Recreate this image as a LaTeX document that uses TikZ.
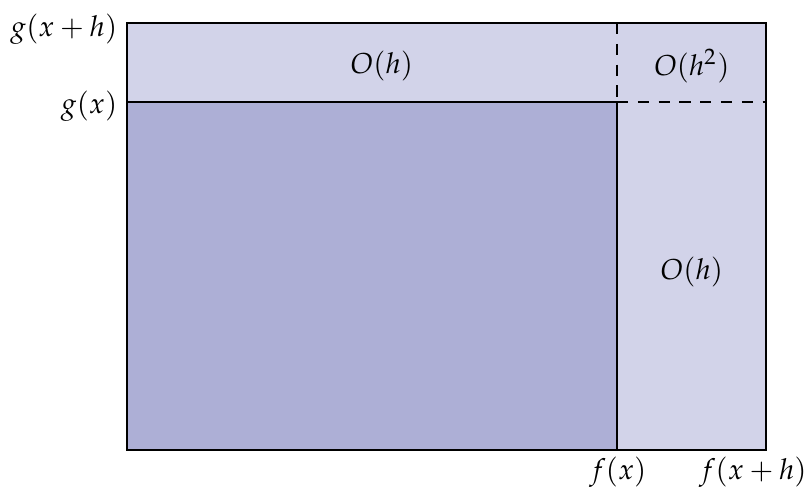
\documentclass[tikz,border=0pt]{standalone}
\usepackage{mathpazo}
\definecolor{lightfill}{RGB}{210,211,233}
\definecolor{darkfill}{RGB}{173,175,214}
\tikzset{
  lbl/.style={inner sep=0pt, font=\fontsize{9}{11}\selectfont},
  thinline/.style={line width=0.35pt, black},
  dashline/.style={line width=0.35pt, black, dash pattern=on 3.5pt off 3pt}
}
\begin{document}
\begin{tikzpicture}[x=0.3125pt,y=-0.3125pt]
\useasboundingbox (0,0) rectangle (807,493);
% regions
\fill[lightfill] (127,23) rectangle (766,450);
\fill[darkfill] (127,102) rectangle (617,450);
% inner lines
\coordinate (gl) at (127,102);
\coordinate (gm) at (617,102);
\coordinate (gr) at (766,102);
\coordinate (ft) at (617,23);
\coordinate (fb) at (617,450);
\draw[thinline] (gl) -- (gm) -- (fb);
\draw[dashline] (gm) -- (gr);
\draw[dashline] (ft) -- (gm);
% outer frame
\draw[line width=0.65pt] (127,23) rectangle (766,450);
% labels
\node[lbl, anchor=east] (gxh) at (118,29) {$g(x+h)$};
\node[lbl, anchor=east] (gx) at (118,106) {$g(x)$};
\node[lbl] (fx) at (618,472) {$f(x)$};
\node[lbl] (fxh) at (753,472) {$f(x+h)$};
\node[lbl] (o1) at (382,66) {$O(h)$};
\node[lbl] (o2) at (692,66) {$O(h^2)$};
\node[lbl] (o3) at (692,272) {$O(h)$};
\end{tikzpicture}
\end{document}
